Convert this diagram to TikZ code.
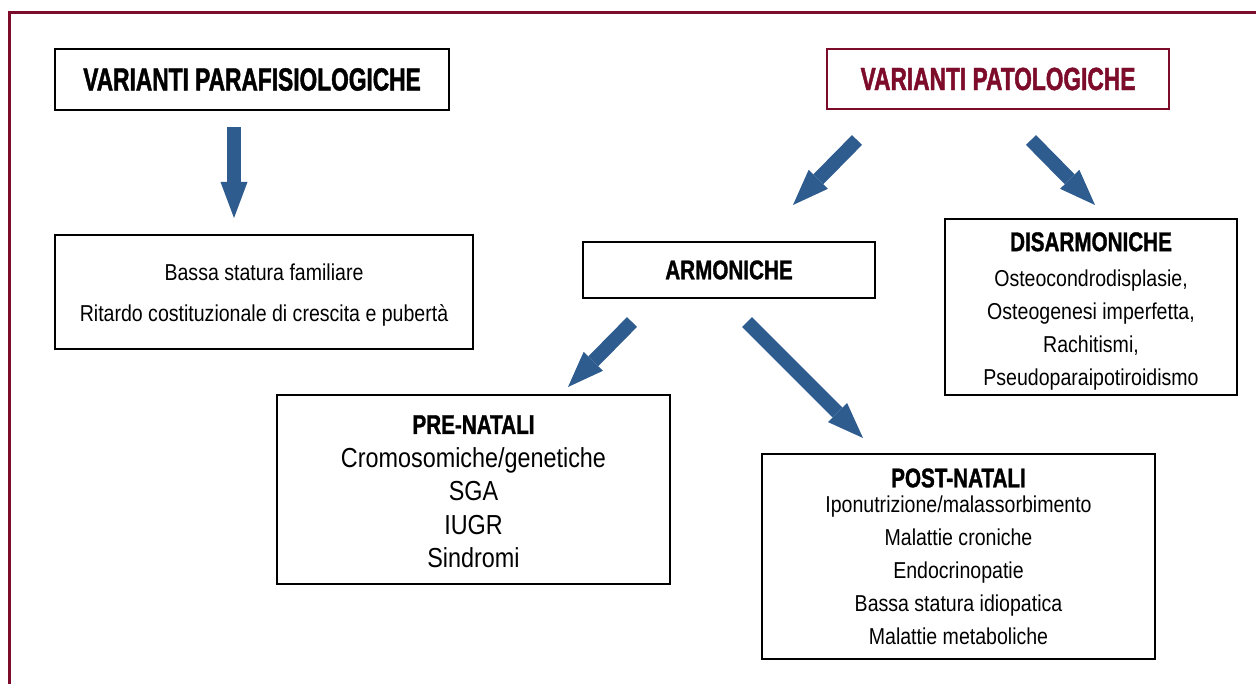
\documentclass[tikz,border=0pt]{standalone}
\usepackage{fontspec}
\usetikzlibrary{arrows.meta}
\newfontfamily\regf[FakeStretch=0.85]{Liberation Sans}
\newfontfamily\boldf[FakeStretch=0.765,FakeBold=1.2]{Liberation Sans Bold}
\newfontfamily\titlef[FakeStretch=0.71,FakeBold=1.4]{Liberation Sans Bold}
\definecolor{wine}{HTML}{7D0C2B}
\definecolor{arrblue}{HTML}{2E5C8E}
\begin{document}
\begin{tikzpicture}[x=1pt,y=-1pt,
  box/.style={draw=black, line width=1.3pt, rectangle, inner sep=0pt, align=center},
  titlefont/.style={font=\titlef\fontsize{32}{34}\selectfont},
  bigarrow/.style={draw=arrblue, line width=14pt, -{Triangle[width=27pt,length=36pt,line width=0pt]}},
]
\useasboundingbox (0,0) rectangle (1256,684);
% frame
\draw[wine, line width=2.7pt, line join=miter] (9.3,684) -- (9.3,12.3) -- (1256,12.3);

% boxes
\node[box, titlefont, minimum width=394pt, minimum height=61pt] (para) at (252,79.5) {VARIANTI PARAFISIOLOGICHE};
\node[box, draw=wine, line width=1.1pt, text=wine, titlefont, minimum width=342pt, minimum height=60pt] (pato) at (998,79) {VARIANTI PATOLOGICHE};
\node[box, font=\regf\fontsize{23}{41}\selectfont, minimum width=418pt, minimum height=114pt] (fam) at (264,292)
  {\rule{0pt}{22pt}Bassa statura familiare\\Ritardo costituzionale di crescita e pubertà};
\node[box, font=\boldf\fontsize{27}{30}\selectfont, minimum width=292pt, minimum height=56pt] (arm) at (729,270) {ARMONICHE};
\node[box, font=\regf\fontsize{23}{33}\selectfont, minimum width=292pt, minimum height=176pt] (dis) at (1091,307)
  {{\boldf\fontsize{27}{33}\selectfont\rule{0pt}{27pt}DISARMONICHE}\\[2pt]Osteocondrodisplasie,\\Osteogenesi imperfetta,\\Rachitismi,\\Pseudoparaipotiroidismo};
\node[box, font=\regf\fontsize{27.5}{33.5}\selectfont, minimum width=393pt, minimum height=189pt] (pre) at (473.5,489.5)
  {{\boldf\fontsize{27}{33}\selectfont\rule{0pt}{23pt}PRE-NATALI}\\Cromosomiche/genetiche\\SGA\\IUGR\\Sindromi};
\node[box, font=\regf\fontsize{23}{33}\selectfont, minimum width=393pt, minimum height=205pt] (post) at (958.5,556.5)
  {{\boldf\fontsize{27}{33}\selectfont POST-NATALI}\\[-8pt]Iponutrizione/malassorbimento\\Malattie croniche\\Endocrinopatie\\Bassa statura idiopatica\\Malattie metaboliche};

% arrow end points
\coordinate (a1s) at (234,127);  \coordinate (a1e) at (234,218);
\coordinate (a2s) at (857,140);  \coordinate (a2e) at (793,205);
\coordinate (a3s) at (1031,140); \coordinate (a3e) at (1095,205);
\coordinate (a4s) at (632,322);  \coordinate (a4e) at (568,387);
\coordinate (a5s) at (747,322);  \coordinate (a5e) at (863,438);

\draw[bigarrow] (a1s) -- (a1e);
\draw[bigarrow] (a2s) -- (a2e);
\draw[bigarrow] (a3s) -- (a3e);
\draw[bigarrow] (a4s) -- (a4e);
\draw[bigarrow] (a5s) -- (a5e);
\end{tikzpicture}
\end{document}
